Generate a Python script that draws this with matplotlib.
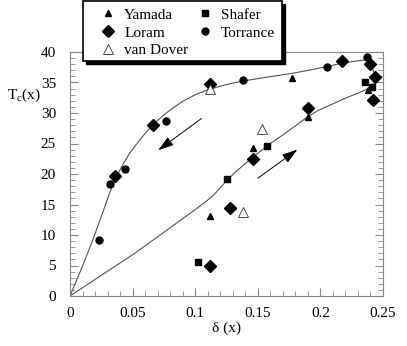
import matplotlib
matplotlib.use("Agg")
import matplotlib.pyplot as plt
import matplotlib.ticker as mtick
from matplotlib.patches import Rectangle

# measured points (delta, Tc)
yamada_x = [0.112, 0.146, 0.177, 0.190, 0.238]
yamada_y = [13.1, 24.2, 35.7, 29.4, 33.7]

loram_x = [0.036, 0.066, 0.112, 0.112, 0.128, 0.146, 0.190, 0.217, 0.240, 0.244, 0.242]
loram_y = [19.6, 28.0, 34.7, 4.9, 14.5, 22.4, 30.9, 38.5, 38.0, 35.9, 32.1]

vandover_x = [0.112, 0.138, 0.153]
vandover_y = [34.0, 13.7, 27.3]

shafer_x = [0.102, 0.125, 0.157, 0.236, 0.241]
shafer_y = [5.6, 19.2, 24.6, 35.1, 34.3]

torrance_x = [0.023, 0.032, 0.044, 0.077, 0.138, 0.205, 0.237]
torrance_y = [9.2, 18.4, 20.9, 28.7, 35.4, 37.6, 39.1]

# guide curve (closed loop)
upper_x = [0.0, 0.01, 0.0184, 0.026, 0.0315, 0.0365, 0.042, 0.048, 0.055, 0.0615,
           0.068, 0.075, 0.082, 0.09, 0.1, 0.11, 0.12, 0.13, 0.14, 0.155, 0.168,
           0.18, 0.193, 0.205, 0.218, 0.228, 0.2356, 0.2385, 0.241, 0.2436, 0.245]
upper_y = [0.0, 4.9, 9.3, 13.6, 16.8, 19.3, 21.5, 23.5, 25.4, 27.0,
           28.4, 29.7, 30.8, 31.9, 33.0, 33.8, 34.4, 34.9, 35.3, 35.8, 36.2,
           36.6, 37.1, 37.6, 38.2, 38.5, 38.7, 38.5, 37.6, 36.2, 35.4]
lower_x = [0.245, 0.2425, 0.239, 0.234, 0.222, 0.2077, 0.198, 0.19, 0.18, 0.17,
           0.16, 0.15, 0.14, 0.132, 0.125, 0.119, 0.114, 0.108, 0.0996, 0.0517, 0.0]
lower_y = [35.4, 34.8, 34.1, 33.6, 32.6, 31.3, 30.4, 29.4, 27.9, 26.4,
           25.0, 23.4, 21.7, 20.3, 18.9, 17.5, 16.4, 15.4, 14.1, 7.0, 0.0]

arrow_start = [(0.105, 29.1), (0.150, 19.3)]
arrow_end = [(0.0705, 23.9), (0.1816, 24.0)]

plt.rcParams["font.family"] = "Liberation Serif"
plt.rcParams["mathtext.fontset"] = "custom"
plt.rcParams["mathtext.rm"] = "Liberation Serif"
plt.rcParams["mathtext.it"] = "Liberation Serif:italic"

W, H = 407, 346
fig = plt.figure(figsize=(W/100, H/100), dpi=100)
ax = fig.add_axes([70/W, 1-296/H, 313/W, 244/H])

ax.plot(upper_x + lower_x, upper_y + lower_y, color="#555555", linewidth=0.8, zorder=1)

for s, e in zip(arrow_start, arrow_end):
    ax.annotate("", xy=e, xytext=s,
                arrowprops=dict(arrowstyle="-|>,head_length=0.95,head_width=0.3",
                                color="k", lw=0.7, mutation_scale=10,
                                shrinkA=0, shrinkB=0))

ax.plot(yamada_x, yamada_y, "k^", markersize=4.5, linestyle="none", label="Yamada", zorder=3)
ax.plot(loram_x, loram_y, "kD", markersize=6, linestyle="none", label="Loram", zorder=3)
ax.plot(vandover_x, vandover_y, "^", markersize=6.5, markerfacecolor="white",
        markeredgecolor="#333333", markeredgewidth=0.6, linestyle="none", label="van Dover", zorder=3)
ax.plot(shafer_x, shafer_y, "ks", markersize=4.5, linestyle="none", label="Shafer", zorder=3)
ax.plot(torrance_x, torrance_y, "ko", markersize=5, linestyle="none", label="Torrance", zorder=3)

ax.set_xlim(0, 0.25)
ax.set_ylim(0, 40)
ax.xaxis.set_major_locator(mtick.MultipleLocator(0.05))
ax.xaxis.set_minor_locator(mtick.MultipleLocator(0.01))
ax.yaxis.set_major_locator(mtick.MultipleLocator(5))
ax.yaxis.set_minor_locator(mtick.MultipleLocator(1))
ax.xaxis.set_major_formatter(mtick.FuncFormatter(lambda v, p: "%g" % round(v, 3)))

ax.tick_params(which="both", direction="in", right=True, top=False,
               color="#888888", labelsize=11)
ax.tick_params(which="major", length=6, width=0.8)
ax.tick_params(which="minor", length=3.5, width=0.6)
ax.tick_params(axis="x", pad=8)
ax.tick_params(axis="y", pad=10)
for sp in ax.spines.values():
    sp.set_color("#888888")
    sp.set_linewidth(0.8)

ax.set_xlabel("\u03b4 (x)", fontsize=11, labelpad=1)
fig.text(7/W, 1-95/H, r"$\mathrm{T_c(x)}$", fontsize=11, va="center", ha="left")

# legend box with solid black drop shadow
fig.patches.append(Rectangle((86/W, 1-64/H), 199/W, 60/H, transform=fig.transFigure,
                             facecolor="black", edgecolor="black", zorder=20))
fig.patches.append(Rectangle((83/W, 1-61/H), 199/W, 60/H, transform=fig.transFigure,
                             facecolor="white", edgecolor="black", linewidth=1.2, zorder=21))

leg = ax.legend(ncol=2, loc="upper left", bbox_to_anchor=(99/W, 1-8/H),
                bbox_transform=fig.transFigure, borderaxespad=0, borderpad=0,
                fontsize=11, frameon=False, handlelength=1.2, handletextpad=0.45,
                columnspacing=0.5, labelspacing=0.27)
leg.remove()
fig.add_artist(leg)
leg.set_zorder(22)

plt.savefig("out.png", dpi=100)
